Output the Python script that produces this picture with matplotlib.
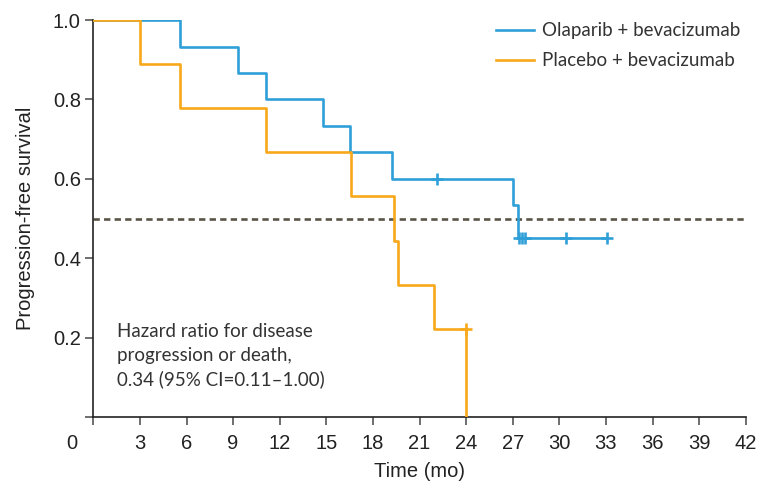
#!/usr/bin/env python3
import numpy as np
import matplotlib
matplotlib.use('Agg')
import matplotlib.pyplot as plt
import matplotlib.transforms as mtransforms

# Olaparib + bevacizumab (step points, last one = end of follow-up)
ola_t = [0, 5.6, 9.3, 11.1, 14.8, 16.55, 19.2, 27.05, 27.35, 33.1]
ola_s = [1.0, 0.933, 0.867, 0.8, 0.733, 0.667, 0.6, 0.533, 0.45, 0.45]
ola_cens_t = [22.1, 27.4, 27.6, 27.8, 30.4, 33.1]
ola_cens_s = [0.6, 0.45, 0.45, 0.45, 0.45, 0.45]

# Placebo + bevacizumab
pla_t = [0, 3.0, 5.6, 11.1, 16.6, 19.35, 19.6, 21.9, 24.0]
pla_s = [1.0, 0.889, 0.778, 0.667, 0.556, 0.444, 0.333, 0.222, 0.0]
pla_cens_t = [24.0]
pla_cens_s = [0.222]

xticks = list(range(0, 43, 3))
yticks = [0, 0.2, 0.4, 0.6, 0.8, 1.0]

BLUE = '#2f9fd8'
ORANGE = '#f7a81b'

narrow = ['Liberation Sans', 'DejaVu Sans']
soft = ['Lato', 'DejaVu Sans']

fig = plt.figure(figsize=(7.68, 4.9), dpi=100)
ax = fig.add_axes([0.1215, 0.149, 0.8495, 0.81])

ax.axhline(0.5, color='#5a5446', ls=(0, (2.4, 1.6)), lw=1.9, zorder=1)

ax.step(ola_t, ola_s, where='post', color=BLUE, lw=1.9, label='Olaparib + bevacizumab', zorder=2)
ax.plot(ola_cens_t, ola_cens_s, '+', color=BLUE, ms=8, mew=1.9, zorder=2)
ax.step(pla_t, pla_s, where='post', color=ORANGE, lw=1.9, label='Placebo + bevacizumab', zorder=3)
ax.plot(pla_cens_t, pla_cens_s, '+', color=ORANGE, ms=8, mew=1.9, zorder=3)

ax.set_xlim(0, 42)
ax.set_ylim(0, 1.0)
ax.set_xticks(xticks)
ax.set_xticklabels([str(x) for x in xticks], family=narrow, fontsize=14.5, color='#222222')
ax.set_yticks(yticks)
ax.set_yticklabels([''] + ['%.1f' % y for y in yticks[1:]], family=narrow, fontsize=14.5, color='#222222')
ax.tick_params(axis='x', length=6, width=1.2, color='#555555', pad=6)
ax.tick_params(axis='y', length=6, width=1.2, color='#555555', pad=3)

# shift the "0" label to the corner
off = mtransforms.ScaledTranslation(-0.21, 0, fig.dpi_scale_trans)
lbl0 = ax.get_xticklabels()[0]
lbl0.set_transform(lbl0.get_transform() + off)

for s in ['top', 'right']:
    ax.spines[s].set_visible(False)
for s in ['left', 'bottom']:
    ax.spines[s].set_linewidth(1.2)
    ax.spines[s].set_color('#222222')

ax.set_xlabel('Time (mo)', family=narrow, fontsize=14.5, color='#222222', labelpad=7)
ax.set_ylabel('Progression-free survival', family=narrow, fontsize=14.5, color='#222222', labelpad=13)

ax.text(1.55, 0.154, 'Hazard ratio for disease\nprogression or death,\n0.34 (95% CI=0.11\u20131.00)',
        family=soft, fontsize=13.5, color='#333333', va='center', ha='left', linespacing=1.45)

leg = ax.legend(loc='upper right', bbox_to_anchor=(1.017, 1.037), frameon=False,
                prop={'family': soft, 'size': 13.5}, handlelength=2.0, handletextpad=0.43,
                labelspacing=0.7)
for t in leg.get_texts():
    t.set_color('#333333')

fig.savefig('out.png', dpi=100)
